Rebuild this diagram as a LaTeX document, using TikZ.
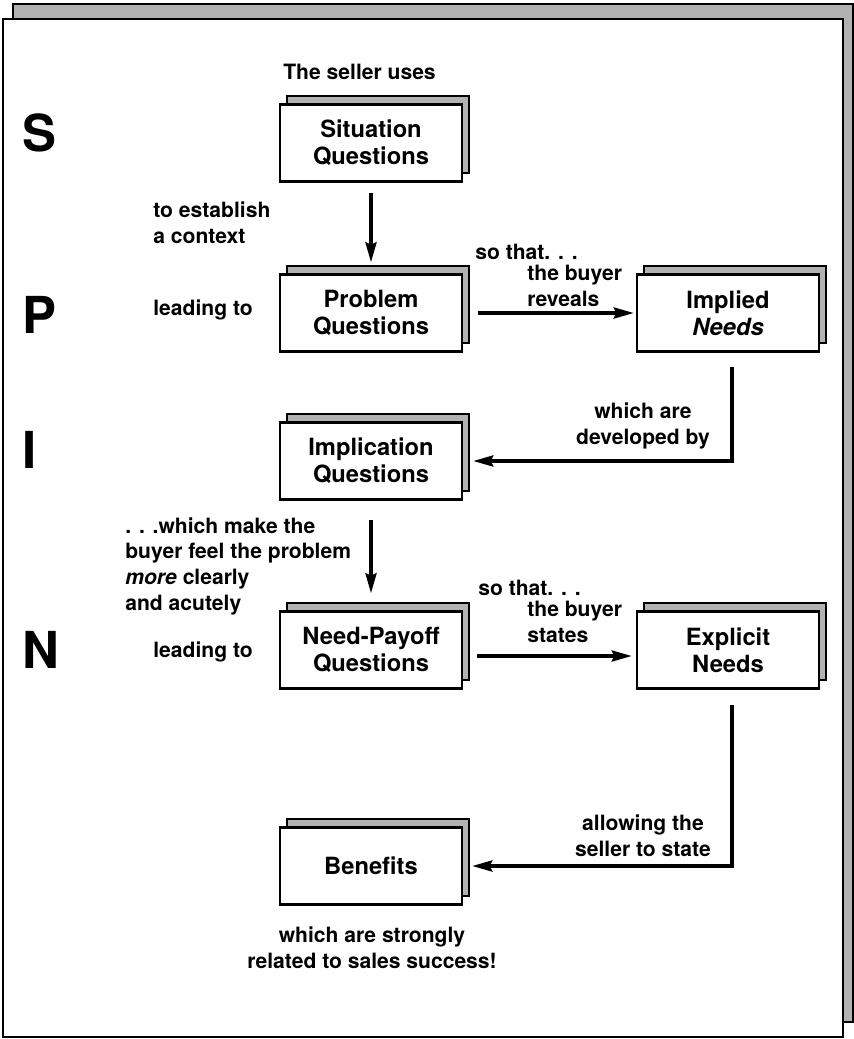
\documentclass[tikz,border=0pt]{standalone}
\usepackage{fontspec}
\setmainfont{TeX Gyre Heros}
\usetikzlibrary{arrows.meta,shadows}
\newcommand{\lblfont}{\fontsize{12}{14.6}\selectfont\bfseries}
\newcommand{\boxfont}{\fontsize{13.5}{15.4}\selectfont\bfseries}
\newcommand{\spinfont}{\fontsize{29}{30}\selectfont\bfseries}
\tikzset{
    shadowed/.style={copy shadow={shadow xshift=0.14cm, shadow yshift=0.17cm, fill=gray!60, draw=black, line width=0.8pt}},
    box/.style={draw, line width=1.4pt, fill=white, minimum width=3.64cm, minimum height=1.54cm, align=center, font=\boxfont, shadowed},
    lbl/.style={font=\lblfont, inner sep=0pt, align=left},
    clbl/.style={font=\lblfont, inner sep=0pt, align=center},
    letter/.style={font=\spinfont, inner sep=0pt, anchor=west},
    flow/.style={line width=2pt, -{Stealth[length=0.4cm, width=0.22cm, inset=0.05cm]}}
}

\begin{document}
\begin{tikzpicture}[x=0.02cm, y=-0.02cm]
    \useasboundingbox (0, 0) rectangle (854, 1039);
    \path[draw, line width=1.6pt, fill=white, copy shadow={shadow xshift=0.2cm, shadow yshift=0.3cm, fill=gray!60, draw=black, line width=0.8pt}] (3, 19) rectangle (843, 1037);

    \node[letter] (S) at (22, 133) {S};
    \node[letter] (P) at (22, 315) {P};
    \node[letter] (I) at (22, 450) {I};
    \node[letter] (N) at (22, 650) {N};

    \node[box] (sit) at (371, 143) {Situation\\Questions};
    \node[box] (prob) at (371, 313) {Problem\\Questions};
    \node[box] (impl) at (728, 313) {Implied\\\textit{Needs}};
    \node[box] (impq) at (371, 461) {Implication\\Questions};
    \node[box] (need) at (371, 650) {Need-Payoff\\Questions};
    \node[box] (expl) at (728, 650) {Explicit\\Needs};
    \node[box] (ben) at (371, 866) {Benefits};

    \node[lbl, anchor=west] (uses) at (283, 72) {The seller uses};
    \node[lbl, anchor=west] (ctx) at (153, 223) {to establish\\a context};
    \node[lbl, anchor=west] (lead1) at (153, 310) {leading to};
    \node[lbl, anchor=west] (so1) at (475, 252) {so that. . .};
    \node[lbl, anchor=west] (rev) at (527, 286) {the buyer\\reveals};
    \node[clbl] (dev) at (643, 426) {which are\\developed by};
    \node[lbl, anchor=west] (feel) at (125, 566) {. . .which make the\\buyer feel the problem\\\textit{more} clearly\\and acutely};
    \node[lbl, anchor=west] (lead2) at (153, 652) {leading to};
    \node[lbl, anchor=west] (so2) at (478, 588) {so that. . .};
    \node[lbl, anchor=west] (sta) at (527, 622) {the buyer\\states};
    \node[clbl] (allow) at (643, 836) {allowing the\\seller to state};
    \node[clbl] (succ) at (372, 948) {which are strongly\\related to sales success!};

    \draw[flow, shorten <=0.2cm, shorten >=0.22cm] (sit) -- (prob);
    \draw[flow, shorten <=0.3cm, shorten >=0.04cm] (prob) -- (impl);
    \draw[flow, shorten <=0.28cm, shorten >=0.2cm] ([xshift=0.08cm]impl.south) |- (impq.east);
    \draw[flow, shorten <=0.38cm, shorten >=0.34cm] (impq) -- (need);
    \draw[flow, shorten <=0.28cm, shorten >=0.08cm] ([yshift=-0.12cm]need.east) -- ([yshift=-0.12cm]expl.west);
    \draw[flow, shorten <=0.3cm, shorten >=0.18cm] ([xshift=0.08cm]expl.south) |- (ben.east);
\end{tikzpicture}
\end{document}
